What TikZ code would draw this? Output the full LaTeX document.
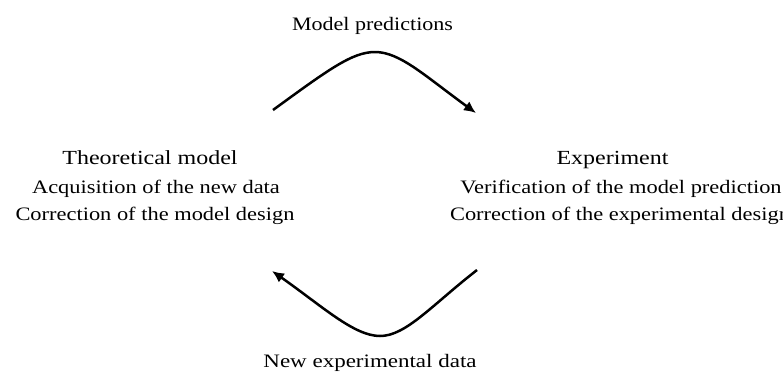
\documentclass[tikz,border=0pt]{standalone}
\usepackage{fontspec}
\usepackage{graphicx}
\setmainfont{Liberation Serif}
\usetikzlibrary{arrows.meta}
\newcommand{\hd}[1]{\fontsize{20}{24}\selectfont\scalebox{1.2}[1]{#1}}
\newcommand{\bd}[1]{\fontsize{19}{23}\selectfont\scalebox{1.18}[1]{#1}}
\begin{document}
\begin{tikzpicture}[x=1pt,y=-1pt,
  txt/.style={anchor=base,inner sep=0pt,text=black},
  flow/.style={line width=2.5pt,-{Latex[length=12pt,width=11pt]}}]
\useasboundingbox (0,0) rectangle (783,373);
\clip (0,0) rectangle (783,373);
% labels
\node[txt] (mp) at (372.5,30) {\fontsize{19}{23}\selectfont\scalebox{1.16}[1]{Model predictions}};
\node[txt] (nd) at (370,367) {\fontsize{19}{23}\selectfont\scalebox{1.21}[1]{New experimental data}};
% left group
\node[txt] (th) at (150,164) {\hd{Theoretical model}};
\node[txt] (th2) at (156,193) {\bd{Acquisition of the new data}};
\node[txt] (th3) at (155,220) {\bd{Correction of the model design}};
% right group
\node[txt] (ex) at (612.5,164) {\hd{Experiment}};
\node[txt] (ex2) at (621,193) {\bd{Verification of the model prediction}};
\node[txt] (ex3) at (620,220) {\bd{Correction of the experimental design}};
% arc end points
\coordinate (ts) at (273,110);
\coordinate (tp) at (375,52);
\coordinate (te) at (476,113);
\coordinate (bs) at (477,270);
\coordinate (bp) at (380,336);
\coordinate (be) at (272,271);
\draw[flow] (ts) .. controls (328,70) and (352,52) .. (tp) .. controls (400,52) and (425,76) .. (te);
\draw[flow] (bs) .. controls (432,305) and (406,336) .. (bp) .. controls (354,336) and (322,306) .. (be);
\end{tikzpicture}
\end{document}
